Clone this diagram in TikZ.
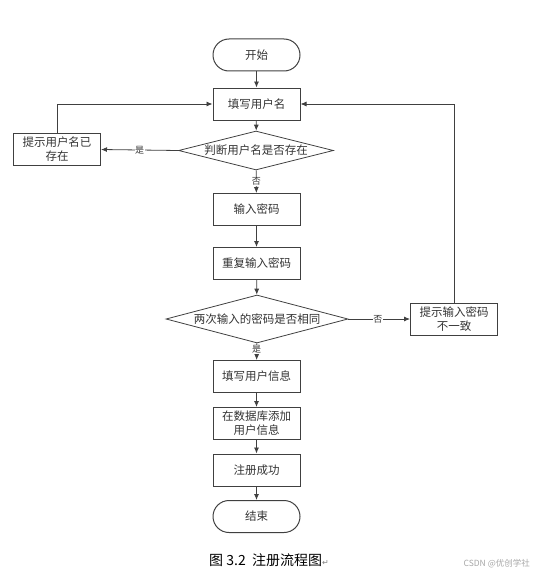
\documentclass[tikz,border=0pt]{standalone}
\usepackage{fontspec}
\setmainfont{Noto Sans CJK SC}
\newfontfamily\symfont{DejaVu Sans}
\usetikzlibrary{shapes.geometric,arrows.meta}
\definecolor{linec}{HTML}{404040}
\definecolor{txtc}{HTML}{333333}
\tikzset{
  box/.style={draw=linec, line width=1pt, rectangle, minimum width=87pt, minimum height=32pt, inner sep=1pt, align=center, font=\fontsize{11.5}{14}\selectfont, text=txtc},
  term/.style={box, rounded corners=16pt},
  dia/.style={draw=linec, line width=0.8pt, diamond, inner sep=0pt, minimum width=#1},
  lbl/.style={font=\fontsize{9}{10}\selectfont, text=txtc, fill=white, inner sep=0.5pt},
  dtext/.style={font=\fontsize{11.5}{14}\selectfont, text=txtc},
  flow/.style={draw=linec, line width=0.8pt, -{Latex[length=6pt,width=5pt]}}
}
\begin{document}
\begin{tikzpicture}[x=1pt,y=-1pt]
\useasboundingbox (0,0) rectangle (534,578);
\node[term] (start) at (256.5,55) {开始};
\node[box] (n1) at (256.5,104) {填写用户名};
\node[dia=155pt, minimum height=39pt] (d1) at (256,150.5) {};
\node[dtext] (d1t) at (d1.center) {判断用户名是否存在};
\node[box] (L) at (57,149.5) {提示用户名已\\存在};
\node[box] (n2) at (256.5,209.5) {输入密码};
\node[box] (n3) at (256.5,263.5) {重复输入密码};
\node[dia=182pt, minimum height=48pt] (d2) at (257,319) {};
\node[dtext] (d2t) at (d2.center) {两次输入的密码是否相同};
\node[box] (R) at (454,319) {提示输入密码\\不一致};
\node[box] (n4) at (256.5,376.5) {填写用户信息};
\node[box] (n5) at (256.5,423.5) {在数据库添加\\用户信息};
\node[box] (n6) at (256.5,470) {注册成功};
\node[term] (end) at (256.5,516.5) {结束};

\draw[flow] (start) -- (n1);
\draw[flow] (n1) -- (d1);
\draw[flow] (d1) -- node[lbl, pos=0.5] {否} (n2);
\draw[flow] (n2) -- (n3);
\draw[flow] (n3) -- (d2);
\draw[flow] (d2) -- node[lbl, pos=0.38] {是} (n4);
\draw[flow] (n4) -- (n5);
\draw[flow] (n5) -- (n6);
\draw[flow] (n6) -- (end);
\draw[flow] (d1.west) -- node[lbl, pos=0.5] {是} (L.east);
\draw[flow] (L.north) |- (n1.west);
\draw[flow] (d2.east) -- node[lbl, pos=0.48] {否} (R.west);
\draw[flow] (R.north) |- (n1.east);

\node[anchor=west, font=\fontsize{14}{16}\selectfont, inner sep=0pt] (cap) at (209,560) {图 3.2\ \ 注册流程图{\symfont\fontsize{8}{9}\selectfont\color{black!50}↵}};
\node[anchor=east, font=\fontsize{8.5}{10}\selectfont, text=black!35, inner sep=0pt] (wm) at (530,564) {CSDN @优创学社};
\end{tikzpicture}
\end{document}
